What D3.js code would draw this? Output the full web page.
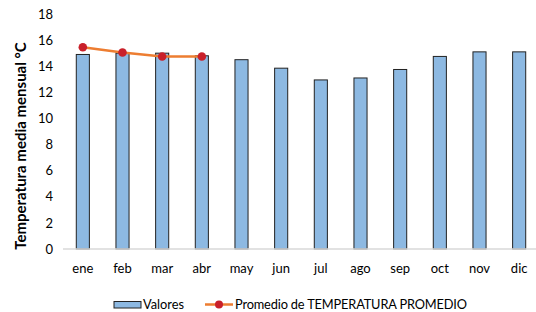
<!DOCTYPE html>
<html><head><meta charset="utf-8">
<script src="https://cdn.jsdelivr.net/npm/d3@7"></script>
<style>body{margin:0;background:#fff}svg{display:block;font-family:Lato,'Open Sans',sans-serif}</style>
</head><body>
<script>
const months = ["ene","feb","mar","abr","may","jun","jul","ago","sep","oct","nov","dic"];
const valores = [14.9,15.0,15.0,14.8,14.5,13.85,12.95,13.1,13.75,14.75,15.1,15.1];
const promedioMonths = ["ene","feb","mar","abr"];
const promedio = [15.45,15.05,14.75,14.75];
const yTicks = [0,2,4,6,8,10,12,14,16,18];

const W=536,H=312;
const svg=d3.select("body").append("svg").attr("width",W).attr("height",H);
const x=d3.scaleBand().domain(months).range([63,539]).paddingInner(0.67).paddingOuter(0.335);
const y=d3.scaleLinear().domain([0,18]).range([249,14]);

// y axis labels
const ya=svg.append("g").attr("transform","translate(53,0)")
  .call(d3.axisLeft(y).tickValues(yTicks).tickSize(0).tickPadding(0));
ya.select(".domain").remove();
ya.selectAll("text").attr("font-size",13).attr("fill","#000").attr("font-family","Lato");

// bars
svg.append("g").selectAll("rect").data(months).join("rect")
  .attr("x",d=>x(d)).attr("width",x.bandwidth())
  .attr("y",(d,i)=>y(valores[i])).attr("height",(d,i)=>y(0)-y(valores[i]))
  .attr("fill","#8DB9E2").attr("stroke","#222").attr("stroke-width",1);

// x axis
const xa=svg.append("g").attr("transform","translate(0,249)")
  .call(d3.axisBottom(x).tickSize(0).tickPadding(15));
xa.select(".domain").attr("stroke","#D9D9D9").attr("stroke-width",1.5).attr("d","M63,0H536");
xa.selectAll("text").attr("font-size",13).attr("fill","#000").attr("font-family","Lato");

// line
const cx=d=>x(d)+x.bandwidth()/2;
svg.append("path").datum(promedioMonths)
  .attr("fill","none").attr("stroke","#ED7D31").attr("stroke-width",2.5)
  .attr("d",d3.line().x(d=>cx(d)).y((d,i)=>y(promedio[i])));
svg.append("g").selectAll("circle").data(promedioMonths).join("circle")
  .attr("cx",d=>cx(d)).attr("cy",(d,i)=>y(promedio[i])).attr("r",4.3).attr("fill","#C9202A");

// y title
svg.append("text").attr("transform","translate(26,146) rotate(-90)")
  .attr("text-anchor","middle").attr("font-size",15).attr("font-weight","bold")
  .text("Temperatura media mensual °C");

// legend
const lg=svg.append("g");
lg.append("rect").attr("x",114).attr("y",301.5).attr("width",27).attr("height",6.5)
  .attr("fill","#8DB9E2").attr("stroke","#222");
lg.append("text").attr("x",143).attr("y",309).attr("font-size",12.8).text("Valores");
lg.append("line").attr("x1",205).attr("x2",233).attr("y1",304.5).attr("y2",304.5)
  .attr("stroke","#ED7D31").attr("stroke-width",2.5);
lg.append("circle").attr("cx",219).attr("cy",304.5).attr("r",4).attr("fill","#C9202A");
lg.append("text").attr("x",235).attr("y",309).attr("font-size",12.8).attr("textLength",232)
  .text("Promedio de TEMPERATURA PROMEDIO");
</script>
</body></html>
